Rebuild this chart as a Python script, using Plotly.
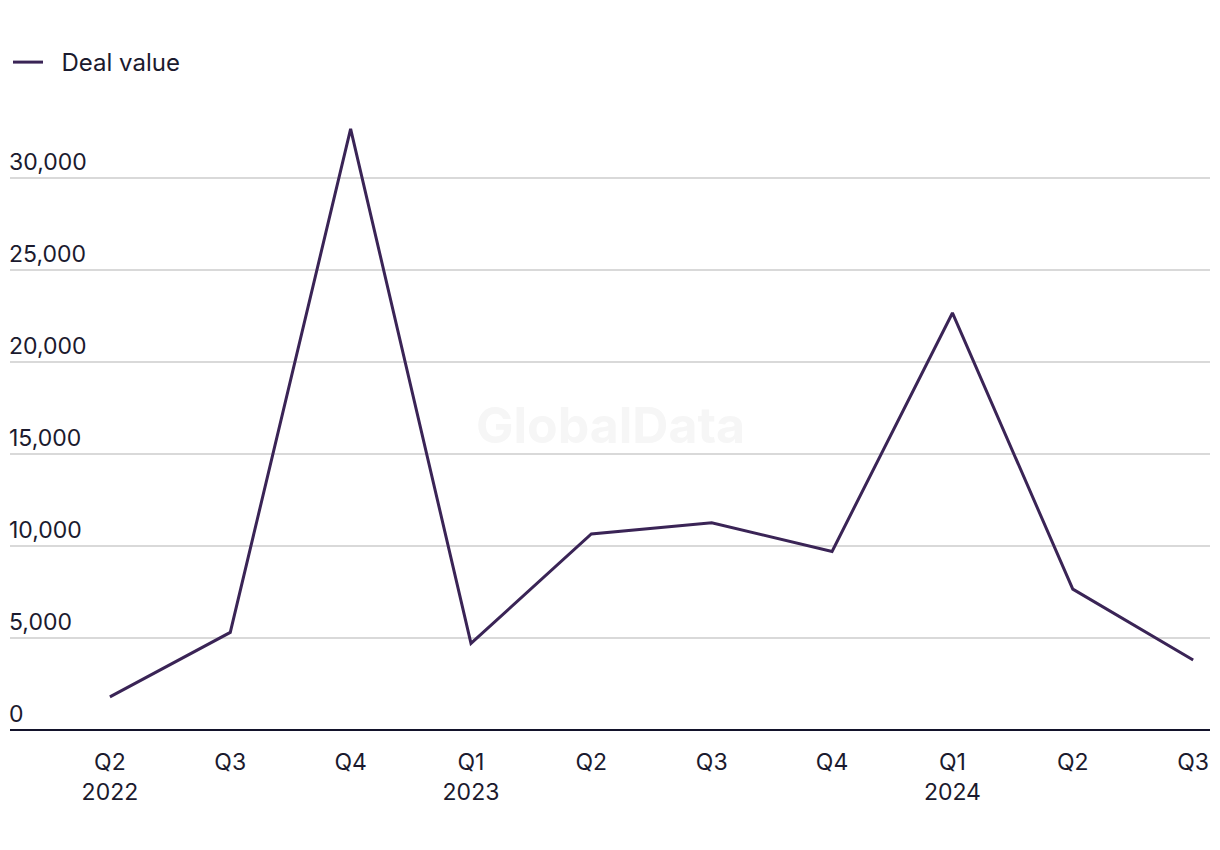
import plotly.graph_objects as go

quarters = ["Q2<br>2022", "Q3", "Q4", "Q1<br>2023", "Q2", "Q3", "Q4", "Q1<br>2024", "Q2", "Q3"]
deal_value = [1800, 5300, 32650, 4700, 10650, 11250, 9700, 22650, 7650, 3800]
y_ticks = [0, 5000, 10000, 15000, 20000, 25000, 30000]
y_tick_text = ["0", "5,000", "10,000", "15,000", "20,000", "25,000", "30,000"]

xs = list(range(len(quarters)))
FONT = "Inter, Roboto, sans-serif"
TEXT = "#1b1a2e"

W, H = 1212, 842  # page body adds an 8px margin

fig = go.Figure()
fig.add_trace(go.Scatter(
    x=xs, y=deal_value, mode="lines", name="\u00a0\u00a0Deal value",
    line=dict(color="#3a2456", width=3),
))

fig.update_layout(
    width=W, height=H,
    paper_bgcolor="white", plot_bgcolor="white",
    margin=dict(l=2, r=10, t=96, b=120),
    font=dict(family=FONT, size=23, color=TEXT),
    showlegend=True,
    legend=dict(
        orientation="h", x=-0.0083, xref="paper", xanchor="left",
        y=1 - 32 / H, yref="container", yanchor="top",
        font=dict(size=24, color=TEXT),
    ),
    xaxis=dict(
        range=[-0.83, 9.14], tickmode="array", tickvals=xs, ticktext=quarters,
        showgrid=False, zeroline=False, showline=False, ticks="",
        tickfont=dict(size=23, color=TEXT), ticklabelstandoff=16,
    ),
    yaxis=dict(
        range=[0, 34000], tickmode="array", tickvals=y_ticks, ticktext=y_tick_text,
        showgrid=True, gridcolor="#d9d9d9", gridwidth=1.5,
        zeroline=True, zerolinecolor="#13132b", zerolinewidth=2,
        ticklabelposition="inside top", ticks="", ticklabelstandoff=-4,
        tickfont=dict(size=23, color=TEXT),
    ),
    annotations=[dict(
        text="<b>GlobalData</b>", x=0.5, y=0.487, xref="paper", yref="paper",
        showarrow=False, font=dict(size=50, color="#f6f6f6", family=FONT),
    )],
)

fig.write_html("out.html")
